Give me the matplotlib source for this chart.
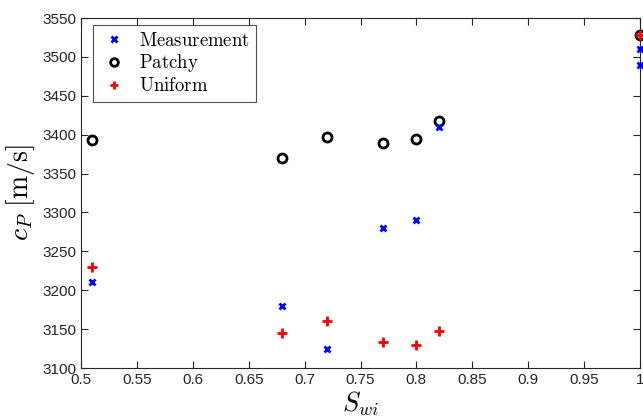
import matplotlib
matplotlib.use("Agg")
import matplotlib.pyplot as plt

plt.rcParams['mathtext.fontset'] = 'cm'
plt.rcParams['font.family'] = ['Liberation Sans', 'DejaVu Sans']

meas_x = [0.51, 0.68, 0.72, 0.77, 0.80, 0.82, 1.0, 1.0]
meas_y = [3210, 3180, 3125, 3280, 3290, 3410, 3510, 3490]
patchy_x = [0.51, 0.68, 0.72, 0.77, 0.80, 0.82, 1.0]
patchy_y = [3393, 3370, 3397, 3389, 3395, 3417, 3528]
uni_x = [0.51, 0.68, 0.72, 0.77, 0.80, 0.82, 1.0]
uni_y = [3230, 3145, 3160, 3133, 3129, 3148, 3528]

xticks = [0.5, 0.55, 0.6, 0.65, 0.7, 0.75, 0.8, 0.85, 0.9, 0.95, 1.0]
xticklabels = ['0.5', '0.55', '0.6', '0.65', '0.7', '0.75', '0.8', '0.85', '0.9', '0.95', '1']
yticks = list(range(3100, 3551, 50))

fig = plt.figure(figsize=(6.43, 4.18), dpi=100)
ax = fig.add_axes([81/643, 1 - 368/418, (640 - 81)/643, (368 - 18)/418])

ax.plot(meas_x, meas_y, linestyle='none', marker='x', color='#0000ff', markersize=5,
        markeredgewidth=2, label=r'$\mathrm{Measurement}$', clip_on=False, zorder=3)
ax.plot(patchy_x, patchy_y, linestyle='none', marker='o', markerfacecolor='none',
        markeredgecolor='black', markersize=6.5, markeredgewidth=2,
        label=r'$\mathrm{Patchy}$', clip_on=False, zorder=2)
ax.plot(uni_x, uni_y, linestyle='none', marker='+', color='#ff0000', markersize=7,
        markeredgewidth=2, label=r'$\mathrm{Uniform}$', clip_on=False, zorder=4)

ax.set_xlim(0.5, 1.0)
ax.set_ylim(3100, 3550)
ax.set_xticks(xticks)
ax.set_xticklabels(xticklabels)
ax.set_yticks(yticks)

for s in ax.spines.values():
    s.set_color('#262626')
    s.set_linewidth(0.8)
ax.tick_params(direction='in', top=True, right=True, length=5, width=0.8,
               colors='#262626', labelsize=11, labelcolor='#262626')

ax.set_xlabel(r'$S_{wi}$', fontsize=19, labelpad=2)
ax.set_ylabel(r'$c_P\ [\mathrm{m/s}]$', fontsize=20, labelpad=4)

leg = ax.legend(loc='upper left', bbox_to_anchor=(12/559, (368 - 25)/350), fontsize=13.5,
                frameon=True, fancybox=False, edgecolor='#262626',
                handletextpad=0.6, borderpad=0.35, labelspacing=0.15,
                handlelength=1.5, borderaxespad=0, markerscale=0.85)
leg.get_frame().set_linewidth(0.8)

fig.savefig('out.png', dpi=100)
